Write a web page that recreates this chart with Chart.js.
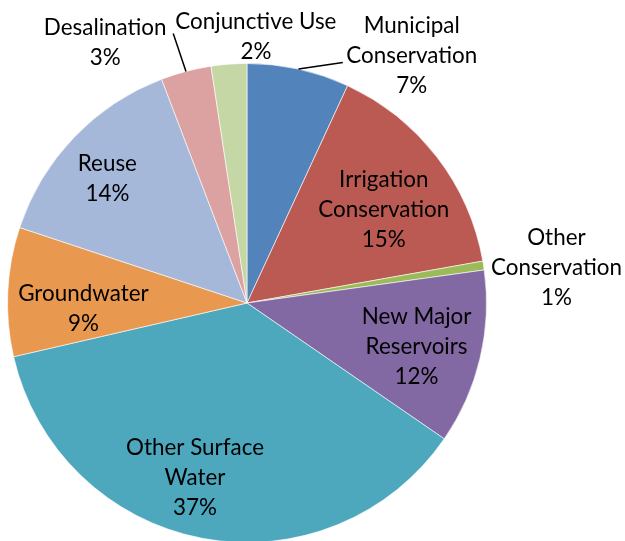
<!DOCTYPE html>
<html>
<head>
<meta charset="utf-8">
<script src="https://cdn.jsdelivr.net/npm/chart.js@4"></script>
<style>
  html, body { margin: 0; padding: 0; background: #ffffff; overflow: hidden; }
  #wrap { width: 625px; height: 541px; overflow: hidden; }
</style>
</head>
<body>
<div id="wrap"><canvas id="c" width="625" height="546"></canvas></div>
<script>
// ---- data ----
const categories = [
  'Municipal Conservation',
  'Irrigation Conservation',
  'Other Conservation',
  'New Major Reservoirs',
  'Other Surface Water',
  'Groundwater',
  'Reuse',
  'Desalination',
  'Conjunctive Use'
];
const shares = [6.9, 15.3, 0.6, 11.8, 36.8, 8.7, 14.1, 3.4, 2.4];
const labelLines = [
  ['Municipal', 'Conservation'],
  ['Irrigation', 'Conservation'],
  ['Other', 'Conservation'],
  ['New Major', 'Reservoirs'],
  ['Other Surface', 'Water'],
  ['Groundwater'],
  ['Reuse'],
  ['Desalination'],
  ['Conjunctive Use']
];

// ---- styling / layout (not data) ----
const colors = ['#5283BA', '#BB5A53', '#9BBB59', '#8369A3', '#4DA7BD', '#E8994F', '#A5B8DA', '#DBA2A1', '#C5D7A4'];
// label block centres relative to pie centre, in units of the radius
const labelOffsets = [
  [0.688, -1.033], [0.571, -0.388], [1.292, -0.146], [0.708, 0.183],
  [-0.217, 0.729], [-0.683, 0.025], [-0.583, -0.517], [-0.592, -1.088], [0.037, -1.113]
];
// leader line end points (relative, radius units) for slices labelled outside
const leaderEnds = { 0: [0.40, -1.004], 7: [-0.308, -1.125] };

const labelPlugin = {
  id: 'sliceLabels',
  afterDatasetsDraw(chart) {
    const ctx = chart.ctx;
    const meta = chart.getDatasetMeta(0);
    const total = shares.reduce((a, b) => a + b, 0);
    ctx.save();
    // leader lines
    ctx.strokeStyle = '#000000';
    ctx.lineWidth = 1.5;
    meta.data.forEach((arc, i) => {
      if (!leaderEnds[i]) return;
      const p = arc.getProps(['x', 'y', 'startAngle', 'endAngle', 'outerRadius'], true);
      const mid = (p.startAngle + p.endAngle) / 2;
      const r = p.outerRadius;
      ctx.beginPath();
      ctx.moveTo(p.x + Math.cos(mid) * r, p.y + Math.sin(mid) * r);
      ctx.lineTo(p.x + leaderEnds[i][0] * r, p.y + leaderEnds[i][1] * r);
      ctx.stroke();
    });
    // text
    let size = 22;
    ctx.font = size + 'px Lato';
    const w = ctx.measureText('Conservation').width;
    size = size * 131 / w;
    ctx.font = size.toFixed(2) + 'px Lato';
    ctx.fillStyle = '#000000';
    ctx.textAlign = 'center';
    ctx.textBaseline = 'middle';
    const lineH = 30;
    meta.data.forEach((arc, i) => {
      const p = arc.getProps(['x', 'y', 'outerRadius'], true);
      const r = p.outerRadius;
      const cx = p.x + labelOffsets[i][0] * r;
      const cy = p.y + labelOffsets[i][1] * r;
      const lines = labelLines[i].concat([Math.round(shares[i] / total * 100) + '%']);
      lines.forEach((t, k) => {
        ctx.fillText(t, cx, cy + (k - (lines.length - 1) / 2) * lineH);
      });
    });
    ctx.restore();
  }
};

new Chart(document.getElementById('c'), {
  type: 'pie',
  data: {
    labels: categories,
    datasets: [{
      data: shares,
      backgroundColor: colors,
      borderColor: 'rgba(255,255,255,0.6)',
      borderWidth: 1
    }]
  },
  options: {
    responsive: false,
    animation: false,
    layout: { padding: { left: 7, right: 138, top: 63, bottom: 3 } },
    plugins: { legend: { display: false }, tooltip: { enabled: false } }
  },
  plugins: [labelPlugin]
});
</script>
</body>
</html>
